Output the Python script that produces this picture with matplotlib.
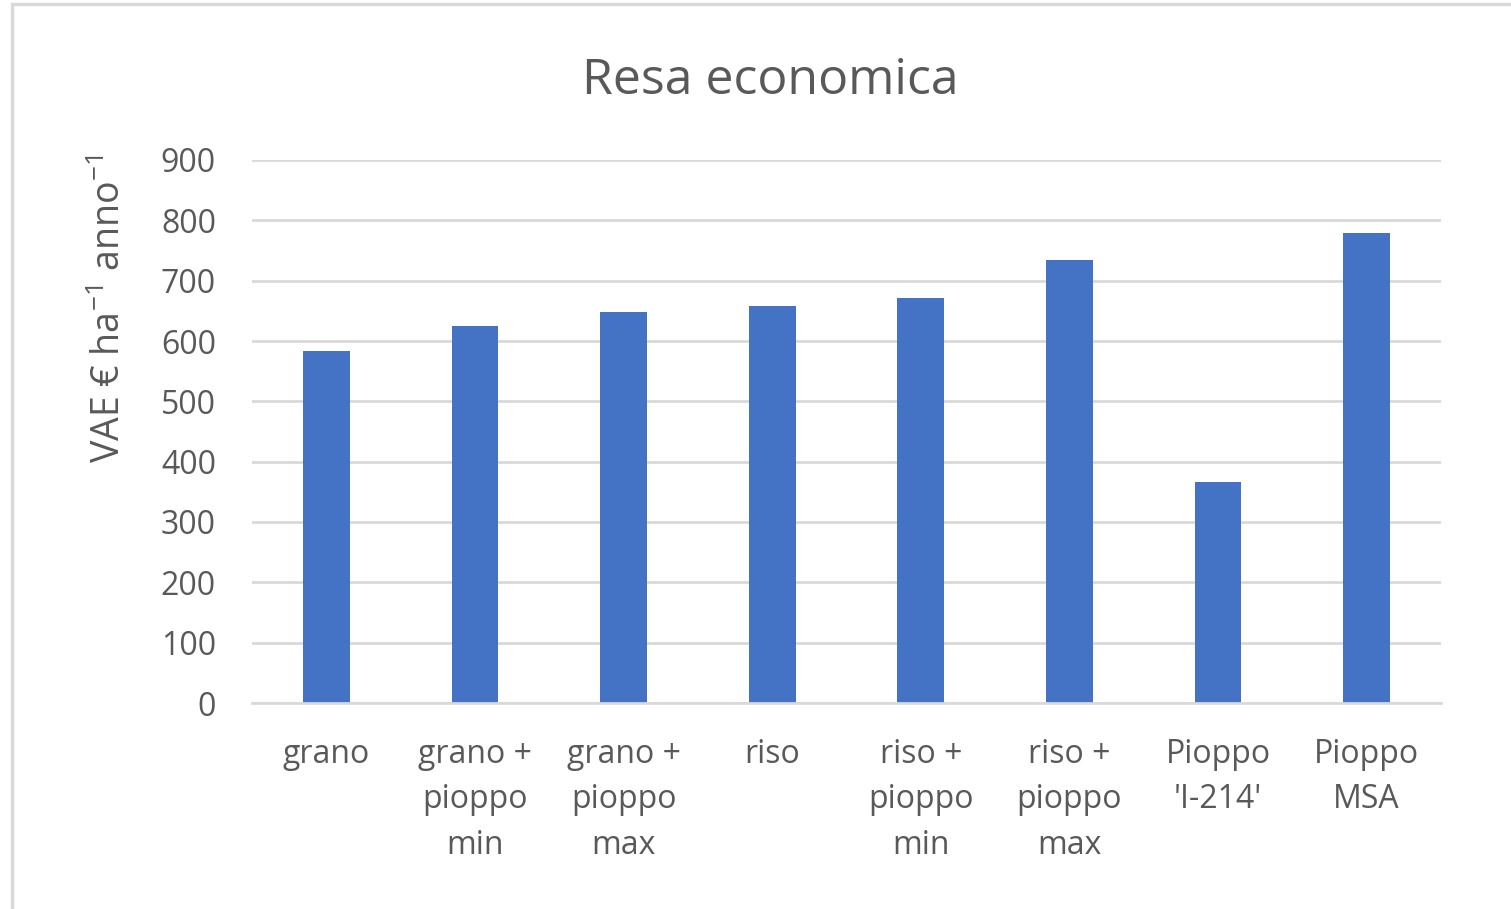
import matplotlib
matplotlib.use("Agg")
import matplotlib.pyplot as plt
from matplotlib.patches import Rectangle
import numpy as np

plt.rcParams["font.family"] = ["Open Sans", "DejaVu Sans"]
plt.rcParams["mathtext.fontset"] = "custom"
plt.rcParams["mathtext.rm"] = "Open Sans"
plt.rcParams["mathtext.it"] = "Open Sans"
plt.rcParams["mathtext.default"] = "rm"

categories = ["grano", "grano +\npioppo\nmin", "grano +\npioppo\nmax", "riso",
              "riso +\npioppo\nmin", "riso +\npioppo\nmax", "Pioppo\n'I-214'", "Pioppo\nMSA"]
values = [584, 625, 648, 658, 671, 734, 366, 779]
yticks = [0, 100, 200, 300, 400, 500, 600, 700, 800, 900]

TXT = "#595959"
BAR = "#4472C4"
GRID = "#D9D9D9"

fig = plt.figure(figsize=(15.11, 9.09), dpi=100)
fig.patches.append(Rectangle((12 / 1511, -0.1), 1.2, (905 / 909) + 0.1,
                             transform=fig.transFigure, fill=False,
                             edgecolor="#D9D9D9", linewidth=2.5))
ax = fig.add_axes([252 / 1511, 1 - 703 / 909, (1441 - 252) / 1511, (703 - 160) / 909])

x = np.arange(len(categories))
ax.bar(x, values, width=0.315, color=BAR, zorder=3)
ax.set_xlim(-0.5, len(categories) - 0.5)
ax.set_ylim(0, 900)
ax.set_yticks(yticks)
ax.set_xticks(x)
ax.set_xticklabels(categories, fontsize=23, color=TXT, linespacing=1.5)
ax.tick_params(axis="y", labelsize=23, labelcolor=TXT, length=0, pad=26)
ax.tick_params(axis="x", length=0, pad=25)
ax.grid(axis="y", color=GRID, linewidth=2, zorder=0)
for s in ["top", "right", "left"]:
    ax.spines[s].set_visible(False)
ax.spines["bottom"].set_color(GRID)
ax.spines["bottom"].set_linewidth(2)
ax.spines["bottom"].set_zorder(4)

fig.text(110 / 1511, 1 - 309 / 909, r"VAE € ha$^{-1}$ anno$^{-1}$", fontsize=27,
         color=TXT, rotation=90, ha="center", va="center")
fig.text(770 / 1511, 1 - 81 / 909, "Resa economica", fontsize=36, color=TXT,
         ha="center", va="center")

fig.savefig("out.png", dpi=100)
